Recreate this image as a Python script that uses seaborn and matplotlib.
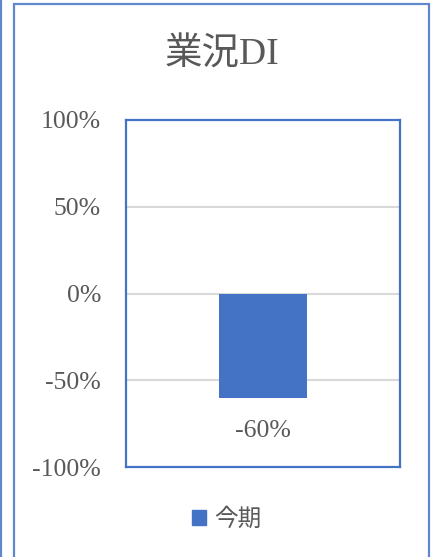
import matplotlib
matplotlib.use("Agg")
import matplotlib.pyplot as plt
import matplotlib.patches as mpatches
from matplotlib.lines import Line2D
import seaborn as sns
import pandas as pd

# Business-conditions diffusion index
categories = ["今期"]
values = [-60]
yticks = [-100, -50, 0, 50, 100]
title = "業況DI"

BLUE = "#4472C4"
TEXT = "#595959"
GRID = "#D9D9D9"
FONTS = ["Liberation Serif", "Noto Sans CJK JP", "DejaVu Sans"]

sns.set_style("white")
plt.rcParams["font.family"] = FONTS

df = pd.DataFrame({"period": categories, "value": values})

W, H = 437, 557
fig = plt.figure(figsize=(W / 100, H / 100), dpi=100)

# chart frame and left edge line
fig.add_artist(mpatches.Rectangle((14.5 / W, -0.05), (429 - 14.5) / W, (H - 4) / H + 0.05,
                                  transform=fig.transFigure, fill=False,
                                  edgecolor=BLUE, linewidth=1.6, alpha=0.85))
fig.add_artist(Line2D([1 / W, 1 / W], [0, 1], transform=fig.transFigure,
                      color=BLUE, linewidth=1.6, alpha=0.85))

ax = fig.add_axes([126 / W, (H - 467) / H, (400 - 126) / W, (467 - 120) / H])
sns.barplot(data=df, x="period", y="value", color=BLUE, saturation=1,
            width=0.318, linewidth=0, ax=ax, zorder=3)

ax.set_ylim(-100, 100)
ax.set_xlim(-0.5, 0.5)
ax.set_yticks(yticks)
ax.set_yticklabels([f"{t}%" for t in yticks], fontsize=18.5, color=TEXT)
ax.set_xticks([])
ax.set_xlabel("")
ax.set_ylabel("")
ax.tick_params(axis="y", length=0, pad=18)
for t in yticks:
    if t not in (-100, 100):
        ax.axhline(t, color=GRID, linewidth=1.5, zorder=1)
for s in ax.spines.values():
    s.set_visible(True)
    s.set_color(BLUE)
    s.set_linewidth(1.6)

for p, v in zip(ax.patches, values):
    ax.text(p.get_x() + p.get_width() / 2, v - 19, f"{v}%", ha="center", va="center",
            fontsize=18.5, color=TEXT)

fig.text(222 / W, 1 - 55 / H, title, ha="center", va="center", fontsize=27, color=TEXT)

handle = mpatches.Patch(color=BLUE, label=categories[0])
fig.legend(handles=[handle], loc="center", bbox_to_anchor=(226.5 / W, 1 - 520 / H),
           frameon=False, fontsize=17, labelcolor=TEXT, handlelength=0.6,
           handleheight=0.6, handletextpad=0.35)

fig.savefig("out.png", dpi=100)
